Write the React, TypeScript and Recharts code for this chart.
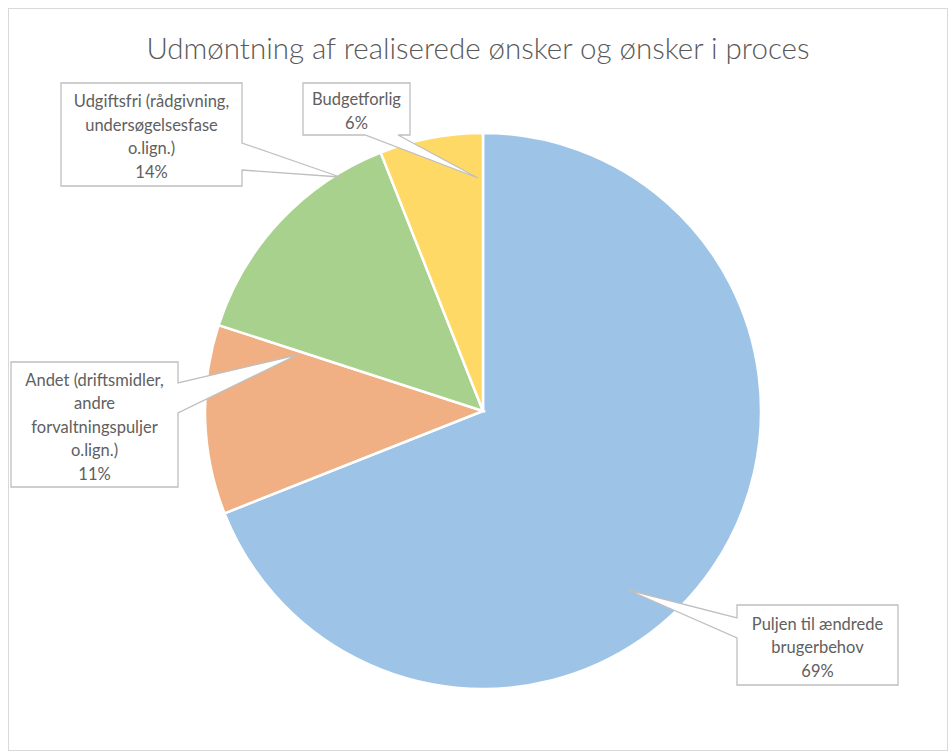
import React from 'react';
import { PieChart, Pie, Cell } from 'recharts';

const CATEGORIES = [
  ['Puljen til ændrede', 'brugerbehov'],
  ['Andet (driftsmidler,', 'andre', 'forvaltningspuljer', 'o.lign.)'],
  ['Udgiftsfri (rådgivning,', 'undersøgelsesfase', 'o.lign.)'],
  ['Budgetforlig'],
];
const SHARES = [69, 11, 14, 6];
const COLORS = ['#9dc3e6', '#f0b083', '#a9d18e', '#ffd966'];

const TITLE = 'Udmøntning af realiserede ønsker og ønsker i proces';

const data = CATEGORIES.map((lines, i) => ({ name: lines.join(' '), value: SHARES[i] }));

// callout boxes, relative to the pie centre (Excel places these by hand)
type Callout = {
  dx: number;
  dy: number;
  w: number;
  h: number;
  tipX: number;
  tipY: number;
  side: 'left' | 'right' | 'bottom';
  b0: number;
  b1: number;
};

const CALLOUTS: Callout[] = [
  { dx: 254, dy: 194, w: 161, h: 80, tipX: 145, tipY: 179, side: 'left', b0: 13, b1: 33 },
  { dx: -472, dy: -49, w: 167, h: 125, tipX: -186, tipY: -56, side: 'right', b0: 21, b1: 51 },
  { dx: -422, dy: -328, w: 181, h: 103, tipX: -143, tipY: -234, side: 'right', b0: 60, b1: 87 },
  { dx: -180, dy: -328, w: 107, h: 52, tipX: -5, tipY: -233, side: 'bottom', b0: 62, b1: 95 },
];

const LINE_H = 23.5;
const TEXT_COLOR = '#606060';
const FONT = 'Lato, "Open Sans", sans-serif';

function calloutPath(x: number, y: number, w: number, h: number, c: Callout, tx: number, ty: number) {
  const r = x + w;
  const b = y + h;
  if (c.side === 'left') {
    return `M${x},${y} L${r},${y} L${r},${b} L${x},${b} L${x},${y + c.b1} L${tx},${ty} L${x},${y + c.b0} Z`;
  }
  if (c.side === 'right') {
    return `M${x},${y} L${r},${y} L${r},${y + c.b0} L${tx},${ty} L${r},${y + c.b1} L${r},${b} L${x},${b} Z`;
  }
  return `M${x},${y} L${r},${y} L${r},${b} L${x + c.b1},${b} L${tx},${ty} L${x + c.b0},${b} L${x},${b} Z`;
}

const renderCallout = (props: any) => {
  const { cx, cy, index } = props;
  const c = CALLOUTS[index];
  const x = cx + c.dx;
  const y = cy + c.dy;
  const lines = [...CATEGORIES[index], `${SHARES[index]}%`];
  const midY = y + c.h / 2 + 2;
  const firstY = midY - ((lines.length - 1) * LINE_H) / 2;
  return (
    <g key={`callout-${index}`}>
      <path
        d={calloutPath(x, y, c.w, c.h, c, cx + c.tipX, cy + c.tipY)}
        fill="#ffffff"
        stroke="#bfbfbf"
        strokeWidth={1.3}
      />
      {lines.map((line, i) => (
        <text
          key={i}
          x={x + c.w / 2}
          y={firstY + i * LINE_H}
          textAnchor="middle"
          dominantBaseline="central"
          fontFamily={FONT}
          fontSize={16.5}
          fill={TEXT_COLOR}
        >
          {line}
        </text>
      ))}
    </g>
  );
};

export default function App() {
  return (
    <div style={{ position: 'absolute', left: 8, top: 8, width: 940, height: 743, background: '#fff' }}>
      <PieChart width={940} height={743} margin={{ top: 0, right: 0, bottom: 0, left: 0 }}>
        <text
          x={470}
          y={39}
          textAnchor="middle"
          dominantBaseline="central"
          fontFamily={FONT}
          fontWeight={300}
          fontSize={29.5}
          fill="#595959"
        >
          {TITLE}
        </text>
        <Pie
          data={data}
          dataKey="value"
          nameKey="name"
          cx={475}
          cy={403}
          outerRadius={278}
          startAngle={90}
          endAngle={-270}
          stroke="#ffffff"
          strokeWidth={2.5}
          label={renderCallout}
          labelLine={false}
          isAnimationActive={false}
        >
          {data.map((d, i) => (
            <Cell key={d.name} fill={COLORS[i]} />
          ))}
        </Pie>
      </PieChart>
      <div
        style={{
          position: 'absolute',
          inset: 0,
          border: '1px solid #d9d9d9',
          pointerEvents: 'none',
        }}
      />
    </div>
  );
}
